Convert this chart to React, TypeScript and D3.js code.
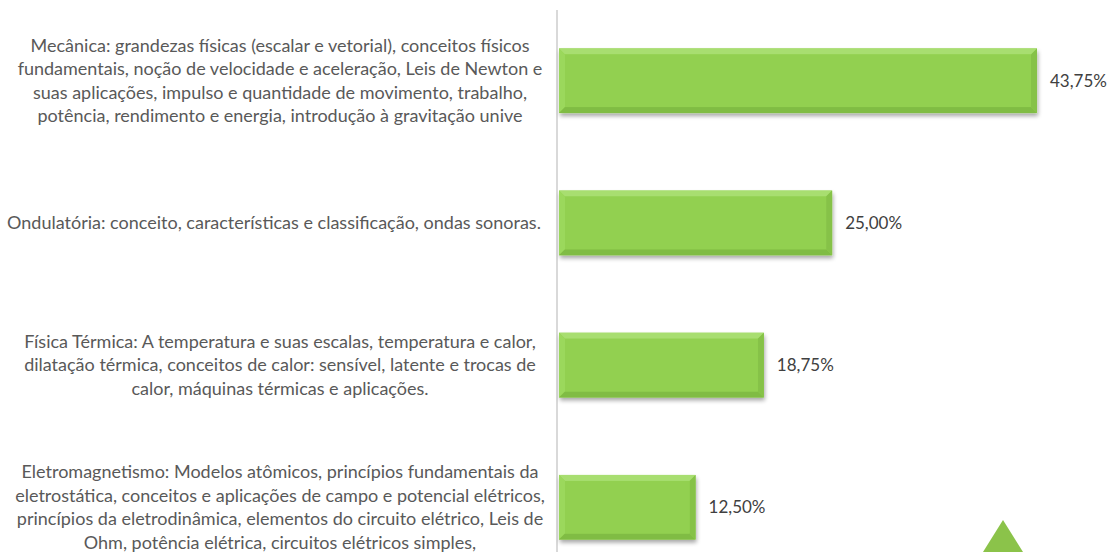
import React from "react";
import * as d3 from "d3";

const categories: string[][] = [
  [
    "Mecânica: grandezas físicas (escalar e vetorial), conceitos físicos",
    "fundamentais, noção de velocidade e aceleração, Leis de Newton e",
    "suas aplicações, impulso e quantidade de movimento, trabalho,",
    "potência, rendimento e energia, introdução à gravitação unive",
  ],
  ["Ondulatória: conceito, características e classificação, ondas sonoras."],
  [
    "Física Térmica: A temperatura e suas escalas, temperatura e calor,",
    "dilatação térmica, conceitos de calor: sensível, latente e trocas de",
    "calor, máquinas térmicas e aplicações.",
  ],
  [
    "Eletromagnetismo: Modelos atômicos, princípios fundamentais da",
    "eletrostática, conceitos e aplicações de campo e potencial elétricos,",
    "princípios da eletrodinâmica, elementos do circuito elétrico, Leis de",
    "Ohm, potência elétrica, circuitos elétricos simples,",
  ],
];
const values: number[] = [43.75, 25.0, 18.75, 12.5];
const valueLabels: string[] = ["43,75%", "25,00%", "18,75%", "12,50%"];

const W = 1113;
const H = 552;
const axisX = 559;

export default function App() {
  const x = d3.scaleLinear().domain([0, 50]).range([axisX, axisX + 546.3]);
  const y = d3
    .scaleBand<number>()
    .domain(d3.range(categories.length))
    .range([10, 578])
    .paddingInner(0.545)
    .paddingOuter(0.27);
  const bw = y.bandwidth();
  const bev = 6;
  const font = "Lato, 'Open Sans', sans-serif";

  return (
    <svg
      width={W}
      height={H}
      style={{ position: "absolute", left: 0, top: 0, background: "#fff" }}
    >
      <defs>
        <filter id="sh" x="-5%" y="-20%" width="115%" height="150%">
          <feGaussianBlur in="SourceAlpha" stdDeviation="2" />
          <feOffset dx="1" dy="3" result="b" />
          <feComponentTransfer>
            <feFuncA type="linear" slope="0.35" />
          </feComponentTransfer>
          <feMerge>
            <feMergeNode />
            <feMergeNode in="SourceGraphic" />
          </feMerge>
        </filter>
      </defs>
      <line x1={axisX - 2} x2={axisX - 2} y1={10} y2={H} stroke="#d9d9d9" strokeWidth={2} />
      {values.map((v, i) => {
        const x0 = x(0);
        const x1 = x(v);
        const y0 = y(i)!;
        const y1 = y0 + bw;
        const lines = categories[i];
        const lh = 23.5;
        const cy = y0 + bw / 2;
        const startY = cy - ((lines.length - 1) * lh) / 2;
        return (
          <g key={i}>
            <g filter="url(#sh)">
              <rect x={x0} y={y0} width={x1 - x0} height={bw} fill="#92d050" />
            </g>
            <polygon
              points={`${x0},${y0} ${x1},${y0} ${x1 - bev},${y0 + bev} ${x0 + bev},${y0 + bev}`}
              fill="#a8de70"
            />
            <polygon
              points={`${x0},${y0} ${x0 + bev},${y0 + bev} ${x0 + bev},${y1 - bev} ${x0},${y1}`}
              fill="#9bd85c"
            />
            <polygon
              points={`${x0},${y1} ${x0 + bev},${y1 - bev} ${x1 - bev},${y1 - bev} ${x1},${y1}`}
              fill="#80bc44"
            />
            <polygon
              points={`${x1},${y0} ${x1 - bev},${y0 + bev} ${x1 - bev},${y1 - bev} ${x1},${y1}`}
              fill="#86c248"
            />
            <rect
              x={x0 + bev}
              y={y0 + bev}
              width={Math.max(0, x1 - x0 - 2 * bev)}
              height={bw - 2 * bev}
              fill="#92d050"
            />
            <text
              x={x1 + 13}
              y={cy}
              dy="0.35em"
              fontFamily={font}
              fontSize={17}
              fill="#404040"
            >
              {valueLabels[i]}
            </text>
            <text fontFamily={font} fontSize={18} fill="#595959" textAnchor="middle">
              {lines.map((l, j) => (
                <tspan key={j} x={lines.length === 1 ? 274 : 280} y={startY + j * lh} dy="0.35em">
                  {l}
                </tspan>
              ))}
            </text>
          </g>
        );
      })}
      <polygon points={`1003,520 1033,568 973,568`} fill="#8bc34a" />
    </svg>
  );
}
